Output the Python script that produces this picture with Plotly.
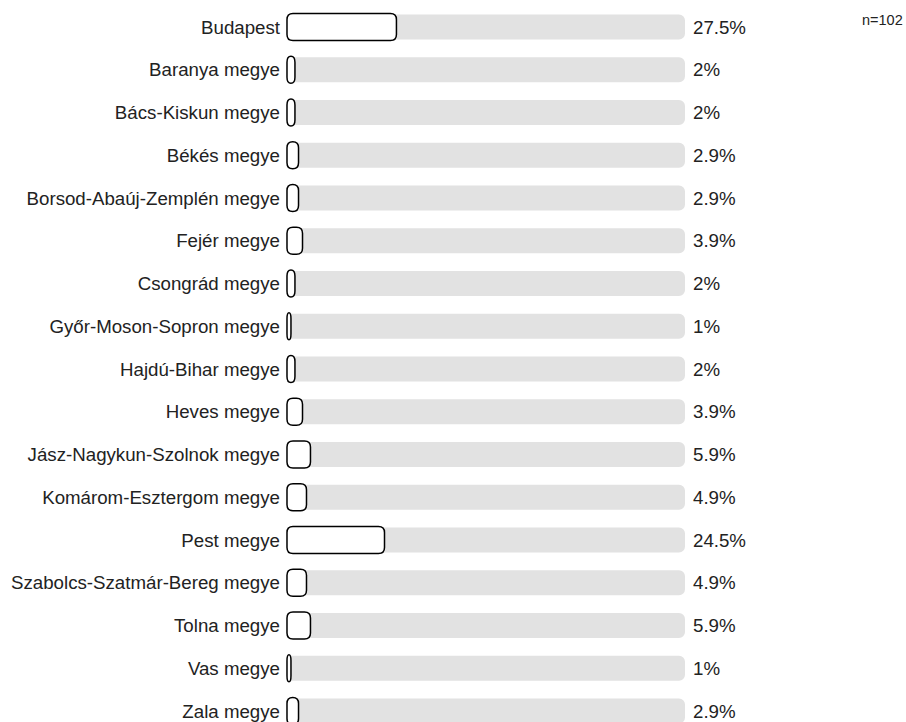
import plotly.graph_objects as go

categories = ["Budapest", "Baranya megye", "Bács-Kiskun megye", "Békés megye",
              "Borsod-Abaúj-Zemplén megye", "Fejér megye", "Csongrád megye",
              "Győr-Moson-Sopron megye", "Hajdú-Bihar megye", "Heves megye",
              "Jász-Nagykun-Szolnok megye", "Komárom-Esztergom megye", "Pest megye",
              "Szabolcs-Szatmár-Bereg megye", "Tolna megye", "Vas megye", "Zala megye"]
values = [27.5, 2, 2, 2.9, 2.9, 3.9, 2, 1, 2, 3.9, 5.9, 4.9, 24.5, 4.9, 5.9, 1, 2.9]
value_labels = ["27.5%", "2%", "2%", "2.9%", "2.9%", "3.9%", "2%", "1%", "2%", "3.9%",
                "5.9%", "4.9%", "24.5%", "4.9%", "5.9%", "1%", "2.9%"]
track_max = [100] * len(categories)
n_label = "n=102"

pos = list(range(len(categories)))
FONT = "Liberation Sans, Arial, sans-serif"

W, H = 906, 722
ML, MR, MT, MB = 285, 221, 5, 0
X_RANGE = [-0.5, 100]
Y_RANGE = [16.257, -0.5146]
px_per_x = (W - ML - MR) / (X_RANGE[1] - X_RANGE[0])
px_per_y = (H - MT - MB) / (Y_RANGE[0] - Y_RANGE[1])

BAR_W = 0.63
TRACK_W = 0.585
RADIUS_PX = 6
FS = 18.7

fig = go.Figure()
# grey track (full 100%)
fig.add_trace(go.Bar(
    y=pos, x=track_max, orientation="h", width=TRACK_W,
    marker=dict(color="#e2e2e2", line=dict(width=0), cornerradius=RADIUS_PX),
    hoverinfo="skip", showlegend=False,
))
# invisible value bars (for hover); outlined rounded shapes drawn on top
fig.add_trace(go.Bar(
    y=pos, x=values, orientation="h", width=BAR_W,
    marker=dict(color="rgba(0,0,0,0)", line=dict(width=0)),
    hovertemplate="%{x}%<extra></extra>", showlegend=False,
))


def rounded_path(v, p):
    x0, x1 = 0.0, v
    y0, y1 = p - BAR_W / 2, p + BAR_W / 2
    w_px = v * px_per_x
    rx = min(RADIUS_PX, w_px / 2) / px_per_x
    ry = RADIUS_PX / px_per_y
    return (f"M {x0 + rx},{y0} L {x1 - rx},{y0} Q {x1},{y0} {x1},{y0 + ry} "
            f"L {x1},{y1 - ry} Q {x1},{y1} {x1 - rx},{y1} L {x0 + rx},{y1} "
            f"Q {x0},{y1} {x0},{y1 - ry} L {x0},{y0 + ry} Q {x0},{y0} {x0 + rx},{y0} Z")


for p, v in zip(pos, values):
    fig.add_shape(type="path", xref="x", yref="y", path=rounded_path(v, p),
                  fillcolor="white", line=dict(color="black", width=1.5), layer="above")

for p, lab in zip(pos, value_labels):
    fig.add_annotation(x=100, y=p, xref="x", yref="y", text=lab, showarrow=False,
                       xanchor="left", xshift=6, font=dict(size=FS, color="#222", family=FONT))

fig.add_annotation(x=1.0, y=1.0, xref="paper", yref="paper", text=n_label, showarrow=False,
                   xanchor="right", yanchor="top", xshift=MR - 1, yshift=-5,
                   font=dict(size=14.5, color="#222", family=FONT))

fig.update_layout(
    width=W, height=H,
    margin=dict(l=ML, r=MR, t=MT, b=MB, pad=0),
    barmode="overlay",
    plot_bgcolor="white", paper_bgcolor="white",
    font=dict(family=FONT, size=FS, color="#222"),
    xaxis=dict(range=X_RANGE, visible=False, fixedrange=True),
    yaxis=dict(range=Y_RANGE, tickvals=pos, ticktext=categories,
               showgrid=False, zeroline=False, showline=False,
               ticks="", ticklabelstandoff=4,
               tickfont=dict(size=FS, color="#222", family=FONT), fixedrange=True),
)

fig.write_html("out.html", config={"displayModeBar": False},
               post_script="document.body.style.margin='0';")
